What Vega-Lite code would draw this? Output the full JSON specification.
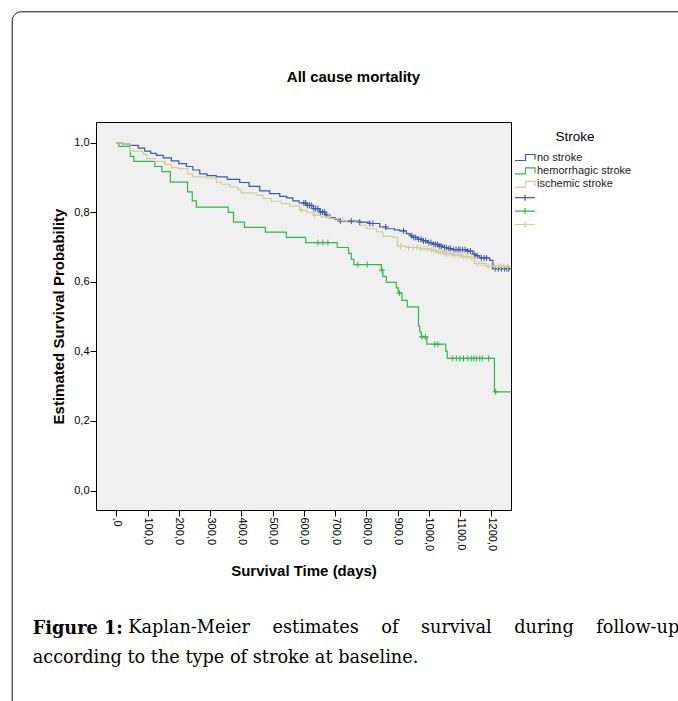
{
  "$schema": "https://vega.github.io/schema/vega-lite/v6.json",
  "width": 415,
  "height": 388,
  "autosize": {"type": "none"},
  "padding": {"left": 96, "top": 122, "right": 167, "bottom": 191},
  "background": "white",
  "title": {
    "text": "Figure 1:",
    "subtitle": "according to the type of stroke at baseline.",
    "orient": "bottom",
    "anchor": "start",
    "frame": "group",
    "font": "DejaVu Serif",
    "fontSize": 17.7,
    "fontWeight": "bold",
    "color": "black",
    "subtitleFont": "DejaVu Serif",
    "subtitleFontSize": 17.7,
    "subtitleColor": "black",
    "subtitlePadding": 11.3,
    "offset": -92.5,
    "dx": -63.3
  },
  "datasets": {
    "curves": [
      {"g": "no stroke", "t": 0, "s": 1.0}, {"g": "no stroke", "t": 20, "s": 0.997}, {"g": "no stroke", "t": 43, "s": 0.993}, {"g": "no stroke", "t": 70, "s": 0.985}, {"g": "no stroke", "t": 91, "s": 0.976}, {"g": "no stroke", "t": 110, "s": 0.970}, {"g": "no stroke", "t": 128, "s": 0.964}, {"g": "no stroke", "t": 150, "s": 0.957}, {"g": "no stroke", "t": 176, "s": 0.948}, {"g": "no stroke", "t": 200, "s": 0.940}, {"g": "no stroke", "t": 224, "s": 0.932}, {"g": "no stroke", "t": 245, "s": 0.922}, {"g": "no stroke", "t": 267, "s": 0.911}, {"g": "no stroke", "t": 290, "s": 0.906}, {"g": "no stroke", "t": 320, "s": 0.902}, {"g": "no stroke", "t": 355, "s": 0.895}, {"g": "no stroke", "t": 395, "s": 0.886}, {"g": "no stroke", "t": 425, "s": 0.875}, {"g": "no stroke", "t": 459, "s": 0.862}, {"g": "no stroke", "t": 491, "s": 0.854}, {"g": "no stroke", "t": 523, "s": 0.846}, {"g": "no stroke", "t": 545, "s": 0.842}, {"g": "no stroke", "t": 565, "s": 0.833}, {"g": "no stroke", "t": 585, "s": 0.827}, {"g": "no stroke", "t": 608, "s": 0.820}, {"g": "no stroke", "t": 630, "s": 0.811}, {"g": "no stroke", "t": 651, "s": 0.801}, {"g": "no stroke", "t": 668, "s": 0.793}, {"g": "no stroke", "t": 683, "s": 0.785}, {"g": "no stroke", "t": 700, "s": 0.780}, {"g": "no stroke", "t": 715, "s": 0.775}, {"g": "no stroke", "t": 779, "s": 0.772}, {"g": "no stroke", "t": 811, "s": 0.768}, {"g": "no stroke", "t": 843, "s": 0.758}, {"g": "no stroke", "t": 864, "s": 0.753}, {"g": "no stroke", "t": 890, "s": 0.750}, {"g": "no stroke", "t": 907, "s": 0.747}, {"g": "no stroke", "t": 928, "s": 0.739}, {"g": "no stroke", "t": 940, "s": 0.733}, {"g": "no stroke", "t": 949, "s": 0.728}, {"g": "no stroke", "t": 965, "s": 0.723}, {"g": "no stroke", "t": 981, "s": 0.718}, {"g": "no stroke", "t": 997, "s": 0.713}, {"g": "no stroke", "t": 1013, "s": 0.708}, {"g": "no stroke", "t": 1030, "s": 0.703}, {"g": "no stroke", "t": 1045, "s": 0.699}, {"g": "no stroke", "t": 1060, "s": 0.696}, {"g": "no stroke", "t": 1077, "s": 0.693}, {"g": "no stroke", "t": 1120, "s": 0.689}, {"g": "no stroke", "t": 1141, "s": 0.680}, {"g": "no stroke", "t": 1150, "s": 0.675}, {"g": "no stroke", "t": 1163, "s": 0.669}, {"g": "no stroke", "t": 1195, "s": 0.662}, {"g": "no stroke", "t": 1205, "s": 0.638}, {"g": "no stroke", "t": 1258, "s": 0.638},

      {"g": "hemorrhagic stroke", "t": 0, "s": 1.0}, {"g": "hemorrhagic stroke", "t": 8, "s": 0.990}, {"g": "hemorrhagic stroke", "t": 45, "s": 0.961}, {"g": "hemorrhagic stroke", "t": 56, "s": 0.947}, {"g": "hemorrhagic stroke", "t": 123, "s": 0.932}, {"g": "hemorrhagic stroke", "t": 146, "s": 0.917}, {"g": "hemorrhagic stroke", "t": 173, "s": 0.887}, {"g": "hemorrhagic stroke", "t": 228, "s": 0.859}, {"g": "hemorrhagic stroke", "t": 243, "s": 0.833}, {"g": "hemorrhagic stroke", "t": 256, "s": 0.815}, {"g": "hemorrhagic stroke", "t": 358, "s": 0.800}, {"g": "hemorrhagic stroke", "t": 375, "s": 0.772}, {"g": "hemorrhagic stroke", "t": 410, "s": 0.757}, {"g": "hemorrhagic stroke", "t": 477, "s": 0.743}, {"g": "hemorrhagic stroke", "t": 544, "s": 0.728}, {"g": "hemorrhagic stroke", "t": 606, "s": 0.713}, {"g": "hemorrhagic stroke", "t": 707, "s": 0.699}, {"g": "hemorrhagic stroke", "t": 743, "s": 0.682}, {"g": "hemorrhagic stroke", "t": 752, "s": 0.665}, {"g": "hemorrhagic stroke", "t": 760, "s": 0.650}, {"g": "hemorrhagic stroke", "t": 848, "s": 0.634}, {"g": "hemorrhagic stroke", "t": 853, "s": 0.616}, {"g": "hemorrhagic stroke", "t": 864, "s": 0.599}, {"g": "hemorrhagic stroke", "t": 896, "s": 0.583}, {"g": "hemorrhagic stroke", "t": 902, "s": 0.568}, {"g": "hemorrhagic stroke", "t": 914, "s": 0.547}, {"g": "hemorrhagic stroke", "t": 931, "s": 0.528}, {"g": "hemorrhagic stroke", "t": 967, "s": 0.473}, {"g": "hemorrhagic stroke", "t": 971, "s": 0.456}, {"g": "hemorrhagic stroke", "t": 976, "s": 0.442}, {"g": "hemorrhagic stroke", "t": 994, "s": 0.421}, {"g": "hemorrhagic stroke", "t": 1054, "s": 0.401}, {"g": "hemorrhagic stroke", "t": 1059, "s": 0.380}, {"g": "hemorrhagic stroke", "t": 1210, "s": 0.284}, {"g": "hemorrhagic stroke", "t": 1262, "s": 0.284},

      {"g": "ischemic stroke", "t": 0, "s": 1.0}, {"g": "ischemic stroke", "t": 21, "s": 0.997}, {"g": "ischemic stroke", "t": 45, "s": 0.976}, {"g": "ischemic stroke", "t": 85, "s": 0.967}, {"g": "ischemic stroke", "t": 98, "s": 0.955}, {"g": "ischemic stroke", "t": 123, "s": 0.947}, {"g": "ischemic stroke", "t": 155, "s": 0.938}, {"g": "ischemic stroke", "t": 176, "s": 0.929}, {"g": "ischemic stroke", "t": 197, "s": 0.926}, {"g": "ischemic stroke", "t": 229, "s": 0.911}, {"g": "ischemic stroke", "t": 245, "s": 0.902}, {"g": "ischemic stroke", "t": 288, "s": 0.899}, {"g": "ischemic stroke", "t": 320, "s": 0.887}, {"g": "ischemic stroke", "t": 336, "s": 0.881}, {"g": "ischemic stroke", "t": 363, "s": 0.873}, {"g": "ischemic stroke", "t": 389, "s": 0.865}, {"g": "ischemic stroke", "t": 400, "s": 0.856}, {"g": "ischemic stroke", "t": 448, "s": 0.849}, {"g": "ischemic stroke", "t": 469, "s": 0.840}, {"g": "ischemic stroke", "t": 496, "s": 0.832}, {"g": "ischemic stroke", "t": 528, "s": 0.825}, {"g": "ischemic stroke", "t": 555, "s": 0.818}, {"g": "ischemic stroke", "t": 587, "s": 0.806}, {"g": "ischemic stroke", "t": 610, "s": 0.799}, {"g": "ischemic stroke", "t": 629, "s": 0.792}, {"g": "ischemic stroke", "t": 655, "s": 0.787}, {"g": "ischemic stroke", "t": 683, "s": 0.782}, {"g": "ischemic stroke", "t": 710, "s": 0.777}, {"g": "ischemic stroke", "t": 736, "s": 0.772}, {"g": "ischemic stroke", "t": 779, "s": 0.763}, {"g": "ischemic stroke", "t": 800, "s": 0.753}, {"g": "ischemic stroke", "t": 832, "s": 0.744}, {"g": "ischemic stroke", "t": 853, "s": 0.731}, {"g": "ischemic stroke", "t": 885, "s": 0.728}, {"g": "ischemic stroke", "t": 900, "s": 0.703}, {"g": "ischemic stroke", "t": 928, "s": 0.699}, {"g": "ischemic stroke", "t": 971, "s": 0.696}, {"g": "ischemic stroke", "t": 1003, "s": 0.691}, {"g": "ischemic stroke", "t": 1024, "s": 0.686}, {"g": "ischemic stroke", "t": 1050, "s": 0.681}, {"g": "ischemic stroke", "t": 1077, "s": 0.677}, {"g": "ischemic stroke", "t": 1105, "s": 0.673}, {"g": "ischemic stroke", "t": 1131, "s": 0.670}, {"g": "ischemic stroke", "t": 1147, "s": 0.653}, {"g": "ischemic stroke", "t": 1184, "s": 0.645}, {"g": "ischemic stroke", "t": 1248, "s": 0.643}, {"g": "ischemic stroke", "t": 1258, "s": 0.643}
    ],
    "censors": [
      {"g": "no stroke censored", "t": 600, "s": 0.827}, {"g": "no stroke censored", "t": 606, "s": 0.827}, {"g": "no stroke censored", "t": 612, "s": 0.820}, {"g": "no stroke censored", "t": 618, "s": 0.820}, {"g": "no stroke censored", "t": 624, "s": 0.820}, {"g": "no stroke censored", "t": 632, "s": 0.811}, {"g": "no stroke censored", "t": 638, "s": 0.811}, {"g": "no stroke censored", "t": 645, "s": 0.811}, {"g": "no stroke censored", "t": 653, "s": 0.801}, {"g": "no stroke censored", "t": 660, "s": 0.801}, {"g": "no stroke censored", "t": 666, "s": 0.801}, {"g": "no stroke censored", "t": 673, "s": 0.793}, {"g": "no stroke censored", "t": 717, "s": 0.775}, {"g": "no stroke censored", "t": 752, "s": 0.775}, {"g": "no stroke censored", "t": 779, "s": 0.772}, {"g": "no stroke censored", "t": 811, "s": 0.768}, {"g": "no stroke censored", "t": 821, "s": 0.768}, {"g": "no stroke censored", "t": 862, "s": 0.758}, {"g": "no stroke censored", "t": 919, "s": 0.747}, {"g": "no stroke censored", "t": 944, "s": 0.733}, {"g": "no stroke censored", "t": 952, "s": 0.728}, {"g": "no stroke censored", "t": 958, "s": 0.728}, {"g": "no stroke censored", "t": 967, "s": 0.723}, {"g": "no stroke censored", "t": 975, "s": 0.723}, {"g": "no stroke censored", "t": 983, "s": 0.718}, {"g": "no stroke censored", "t": 990, "s": 0.718}, {"g": "no stroke censored", "t": 1000, "s": 0.713}, {"g": "no stroke censored", "t": 1007, "s": 0.713}, {"g": "no stroke censored", "t": 1016, "s": 0.708}, {"g": "no stroke censored", "t": 1022, "s": 0.708}, {"g": "no stroke censored", "t": 1028, "s": 0.708}, {"g": "no stroke censored", "t": 1035, "s": 0.703}, {"g": "no stroke censored", "t": 1041, "s": 0.703}, {"g": "no stroke censored", "t": 1050, "s": 0.699}, {"g": "no stroke censored", "t": 1056, "s": 0.699}, {"g": "no stroke censored", "t": 1064, "s": 0.696}, {"g": "no stroke censored", "t": 1070, "s": 0.696}, {"g": "no stroke censored", "t": 1080, "s": 0.693}, {"g": "no stroke censored", "t": 1087, "s": 0.693}, {"g": "no stroke censored", "t": 1094, "s": 0.693}, {"g": "no stroke censored", "t": 1100, "s": 0.693}, {"g": "no stroke censored", "t": 1108, "s": 0.693}, {"g": "no stroke censored", "t": 1116, "s": 0.693}, {"g": "no stroke censored", "t": 1125, "s": 0.689}, {"g": "no stroke censored", "t": 1133, "s": 0.689}, {"g": "no stroke censored", "t": 1145, "s": 0.680}, {"g": "no stroke censored", "t": 1155, "s": 0.675}, {"g": "no stroke censored", "t": 1168, "s": 0.669}, {"g": "no stroke censored", "t": 1177, "s": 0.669}, {"g": "no stroke censored", "t": 1185, "s": 0.669}, {"g": "no stroke censored", "t": 1212, "s": 0.638}, {"g": "no stroke censored", "t": 1222, "s": 0.638}, {"g": "no stroke censored", "t": 1232, "s": 0.638}, {"g": "no stroke censored", "t": 1242, "s": 0.638}, {"g": "no stroke censored", "t": 1250, "s": 0.638}, {"g": "no stroke censored", "t": 1256, "s": 0.638},

      {"g": "hemorrhagic stroke censored", "t": 645, "s": 0.713}, {"g": "hemorrhagic stroke censored", "t": 661, "s": 0.713}, {"g": "hemorrhagic stroke censored", "t": 677, "s": 0.713}, {"g": "hemorrhagic stroke censored", "t": 773, "s": 0.650}, {"g": "hemorrhagic stroke censored", "t": 803, "s": 0.650}, {"g": "hemorrhagic stroke censored", "t": 850, "s": 0.634}, {"g": "hemorrhagic stroke censored", "t": 906, "s": 0.568}, {"g": "hemorrhagic stroke censored", "t": 978, "s": 0.442}, {"g": "hemorrhagic stroke censored", "t": 989, "s": 0.442}, {"g": "hemorrhagic stroke censored", "t": 1019, "s": 0.421}, {"g": "hemorrhagic stroke censored", "t": 1029, "s": 0.421}, {"g": "hemorrhagic stroke censored", "t": 1075, "s": 0.380}, {"g": "hemorrhagic stroke censored", "t": 1088, "s": 0.380}, {"g": "hemorrhagic stroke censored", "t": 1099, "s": 0.380}, {"g": "hemorrhagic stroke censored", "t": 1111, "s": 0.380}, {"g": "hemorrhagic stroke censored", "t": 1125, "s": 0.380}, {"g": "hemorrhagic stroke censored", "t": 1136, "s": 0.380}, {"g": "hemorrhagic stroke censored", "t": 1144, "s": 0.380}, {"g": "hemorrhagic stroke censored", "t": 1152, "s": 0.380}, {"g": "hemorrhagic stroke censored", "t": 1163, "s": 0.380}, {"g": "hemorrhagic stroke censored", "t": 1171, "s": 0.380}, {"g": "hemorrhagic stroke censored", "t": 1191, "s": 0.380}, {"g": "hemorrhagic stroke censored", "t": 1214, "s": 0.284},

      {"g": "ischemic stroke censored", "t": 592, "s": 0.806}, {"g": "ischemic stroke censored", "t": 635, "s": 0.792}, {"g": "ischemic stroke censored", "t": 680, "s": 0.787}, {"g": "ischemic stroke censored", "t": 725, "s": 0.777}, {"g": "ischemic stroke censored", "t": 910, "s": 0.703}, {"g": "ischemic stroke censored", "t": 935, "s": 0.699}, {"g": "ischemic stroke censored", "t": 950, "s": 0.699}, {"g": "ischemic stroke censored", "t": 962, "s": 0.699}, {"g": "ischemic stroke censored", "t": 975, "s": 0.696}, {"g": "ischemic stroke censored", "t": 985, "s": 0.696}, {"g": "ischemic stroke censored", "t": 995, "s": 0.696}, {"g": "ischemic stroke censored", "t": 1008, "s": 0.691}, {"g": "ischemic stroke censored", "t": 1015, "s": 0.691}, {"g": "ischemic stroke censored", "t": 1022, "s": 0.691}, {"g": "ischemic stroke censored", "t": 1030, "s": 0.686}, {"g": "ischemic stroke censored", "t": 1037, "s": 0.686}, {"g": "ischemic stroke censored", "t": 1044, "s": 0.686}, {"g": "ischemic stroke censored", "t": 1052, "s": 0.681}, {"g": "ischemic stroke censored", "t": 1058, "s": 0.681}, {"g": "ischemic stroke censored", "t": 1065, "s": 0.681}, {"g": "ischemic stroke censored", "t": 1072, "s": 0.681}, {"g": "ischemic stroke censored", "t": 1080, "s": 0.677}, {"g": "ischemic stroke censored", "t": 1087, "s": 0.677}, {"g": "ischemic stroke censored", "t": 1095, "s": 0.677}, {"g": "ischemic stroke censored", "t": 1102, "s": 0.677}, {"g": "ischemic stroke censored", "t": 1110, "s": 0.673}, {"g": "ischemic stroke censored", "t": 1118, "s": 0.673}, {"g": "ischemic stroke censored", "t": 1125, "s": 0.673}, {"g": "ischemic stroke censored", "t": 1135, "s": 0.670}, {"g": "ischemic stroke censored", "t": 1142, "s": 0.670}, {"g": "ischemic stroke censored", "t": 1152, "s": 0.653}, {"g": "ischemic stroke censored", "t": 1160, "s": 0.653}, {"g": "ischemic stroke censored", "t": 1168, "s": 0.653}, {"g": "ischemic stroke censored", "t": 1176, "s": 0.653}, {"g": "ischemic stroke censored", "t": 1190, "s": 0.645}, {"g": "ischemic stroke censored", "t": 1200, "s": 0.645}, {"g": "ischemic stroke censored", "t": 1210, "s": 0.645}, {"g": "ischemic stroke censored", "t": 1220, "s": 0.645}, {"g": "ischemic stroke censored", "t": 1230, "s": 0.645}, {"g": "ischemic stroke censored", "t": 1240, "s": 0.645}, {"g": "ischemic stroke censored", "t": 1252, "s": 0.643}
    ]
  },
  "layer": [
    {
      "data": {"name": "curves"},
      "mark": {"type": "line", "interpolate": "step-after", "strokeWidth": 1.2},
      "encoding": {
        "x": {
          "field": "t", "type": "quantitative",
          "scale": {"domain": [-65, 1263], "nice": false, "zero": false},
          "axis": {
            "orient": "bottom",
            "title": "Survival Time (days)",
            "values": [0, 100, 200, 300, 400, 500, 600, 700, 800, 900, 1000, 1100, 1200],
            "labelAngle": 90,
            "labelExpr": "datum.value === 0 ? ',0' : replace(format(datum.value, '.1f'), '.', ',')",
            "labelPadding": 1,
            "tickSize": 6,
            "titleY": 60,
            "titleBaseline": "middle"
          }
        },
        "y": {
          "field": "s", "type": "quantitative",
          "scale": {"domain": [-0.056, 1.06], "nice": false, "zero": false},
          "axis": {
            "orient": "left",
            "title": "Estimated Survival Probability",
            "values": [0, 0.2, 0.4, 0.6, 0.8, 1.0],
            "labelExpr": "replace(format(datum.value, '.1f'), '.', ',')",
            "labelPadding": 1,
            "tickSize": 6,
            "titleX": -38,
            "titleBaseline": "middle"
          }
        },
        "color": {
          "field": "g", "type": "nominal",
          "scale": {
            "domain": ["no stroke", "hemorrhagic stroke", "ischemic stroke", "no stroke censored", "hemorrhagic stroke censored", "ischemic stroke censored"],
            "range": ["#3e58ac", "#2eb848", "#d3ce97", "#3e58ac", "#2eb848", "#d3ce97"]
          },
          "legend": {
            "title": "Stroke",
            "orient": "none",
            "legendX": 423,
            "legendY": 8,
            "padding": 0,
            "titleFont": "Liberation Sans",
            "titleFontSize": 13.5,
            "titleFontWeight": "normal",
            "titleColor": "black",
            "titleAnchor": "middle",
            "titlePadding": 8,
            "labelFont": "Liberation Sans",
            "labelFontSize": 11,
            "labelColor": "#1a1a1a",
            "labelOffset": 6,
            "symbolSize": 100,
            "rowPadding": 1.4,
            "labelExpr": "indexof(datum.label, 'censored') >= 0 ? '' : datum.label",
            "encode": {
              "symbols": {
                "update": {
                  "shape": {"signal": "indexof(datum.value, 'censored') >= 0 ? 'M-2,0H2M0,-0.6V0.6' : 'M-2,0.6H0.1V-0.6H2V0.4'"},
                  "stroke": {"scale": "color", "field": "value"},
                  "fill": {"value": "transparent"},
                  "strokeWidth": {"value": 1.2}
                }
              }
            }
          }
        }
      }
    },
    {
      "data": {"name": "censors"},
      "mark": {"type": "point", "shape": "M-1,0H1M0,-1V1", "filled": false, "size": 36, "strokeWidth": 1},
      "encoding": {
        "x": {
          "field": "t", "type": "quantitative",
          "scale": {"domain": [-65, 1263], "nice": false, "zero": false},
          "axis": {
            "orient": "top",
            "title": "All cause mortality",
            "labels": false,
            "ticks": false,
            "domain": false,
            "titleX": 257,
            "titleY": -46,
            "titleBaseline": "middle",
            "titleAlign": "center",
            "titleFontSize": 15
          }
        },
        "y": {
          "field": "s", "type": "quantitative",
          "scale": {"domain": [-0.056, 1.06], "nice": false, "zero": false},
          "axis": {
            "orient": "right",
            "title": "Kaplan-Meier\u00a0\u00a0\u00a0\u00a0estimates\u00a0\u00a0\u00a0\u00a0of\u00a0\u00a0\u00a0\u00a0survival\u00a0\u00a0\u00a0\u00a0during\u00a0\u00a0\u00a0\u00a0follow-up",
            "labels": false,
            "ticks": false,
            "domain": false,
            "titleFont": "DejaVu Serif",
            "titleFontSize": 17.7,
            "titleFontWeight": "normal",
            "titleAngle": 0,
            "titleAlign": "left",
            "titleBaseline": "middle",
            "titleX": -383.3,
            "titleY": 505.3,
            "titleLimit": 1000
          }
        },
        "color": {
          "field": "g", "type": "nominal",
          "scale": {
            "domain": ["no stroke", "hemorrhagic stroke", "ischemic stroke", "no stroke censored", "hemorrhagic stroke censored", "ischemic stroke censored"],
            "range": ["#3e58ac", "#2eb848", "#d3ce97", "#3e58ac", "#2eb848", "#d3ce97"]
          }
        },
        "opacity": {
          "datum": "frame", "type": "ordinal",
          "scale": {"range": [1, 1]},
          "legend": {
            "title": null,
            "orient": "none",
            "legendX": -84.3,
            "legendY": -110.7,
            "padding": 350,
            "strokeColor": "#111111",
            "cornerRadius": 9,
            "fillColor": "transparent",
            "symbolType": "M0,0",
            "symbolOpacity": 0,
            "symbolSize": 4,
            "symbolStrokeWidth": 0,
            "symbolStrokeColor": "transparent",
            "symbolFillColor": "transparent",
            "labelExpr": "''",
            "labelFontSize": 1,
            "labelColor": "transparent",
            "encode": {
              "symbols": {"update": {"shape": {"value": "M0,0"}, "opacity": {"value": 0}, "fillOpacity": {"value": 0}, "strokeOpacity": {"value": 0}, "stroke": {"value": "transparent"}, "fill": {"value": "transparent"}}},
              "legend": {"update": {"strokeWidth": {"value": 1.4}}}
            }
          }
        }
      }
    }
  ],
  "resolve": {"axis": {"x": "independent", "y": "independent"}},
  "config": {
    "font": "Liberation Sans",
    "view": {"fill": "#f0f0f0", "stroke": "black", "strokeWidth": 1},
    "axis": {
      "labelFont": "Liberation Sans",
      "labelFontSize": 11,
      "labelColor": "black",
      "tickColor": "black",
      "titleFont": "Liberation Sans",
      "titleFontSize": 15,
      "titleFontWeight": "bold",
      "titleColor": "black",
      "grid": false,
      "domain": false
    }
  }
}
